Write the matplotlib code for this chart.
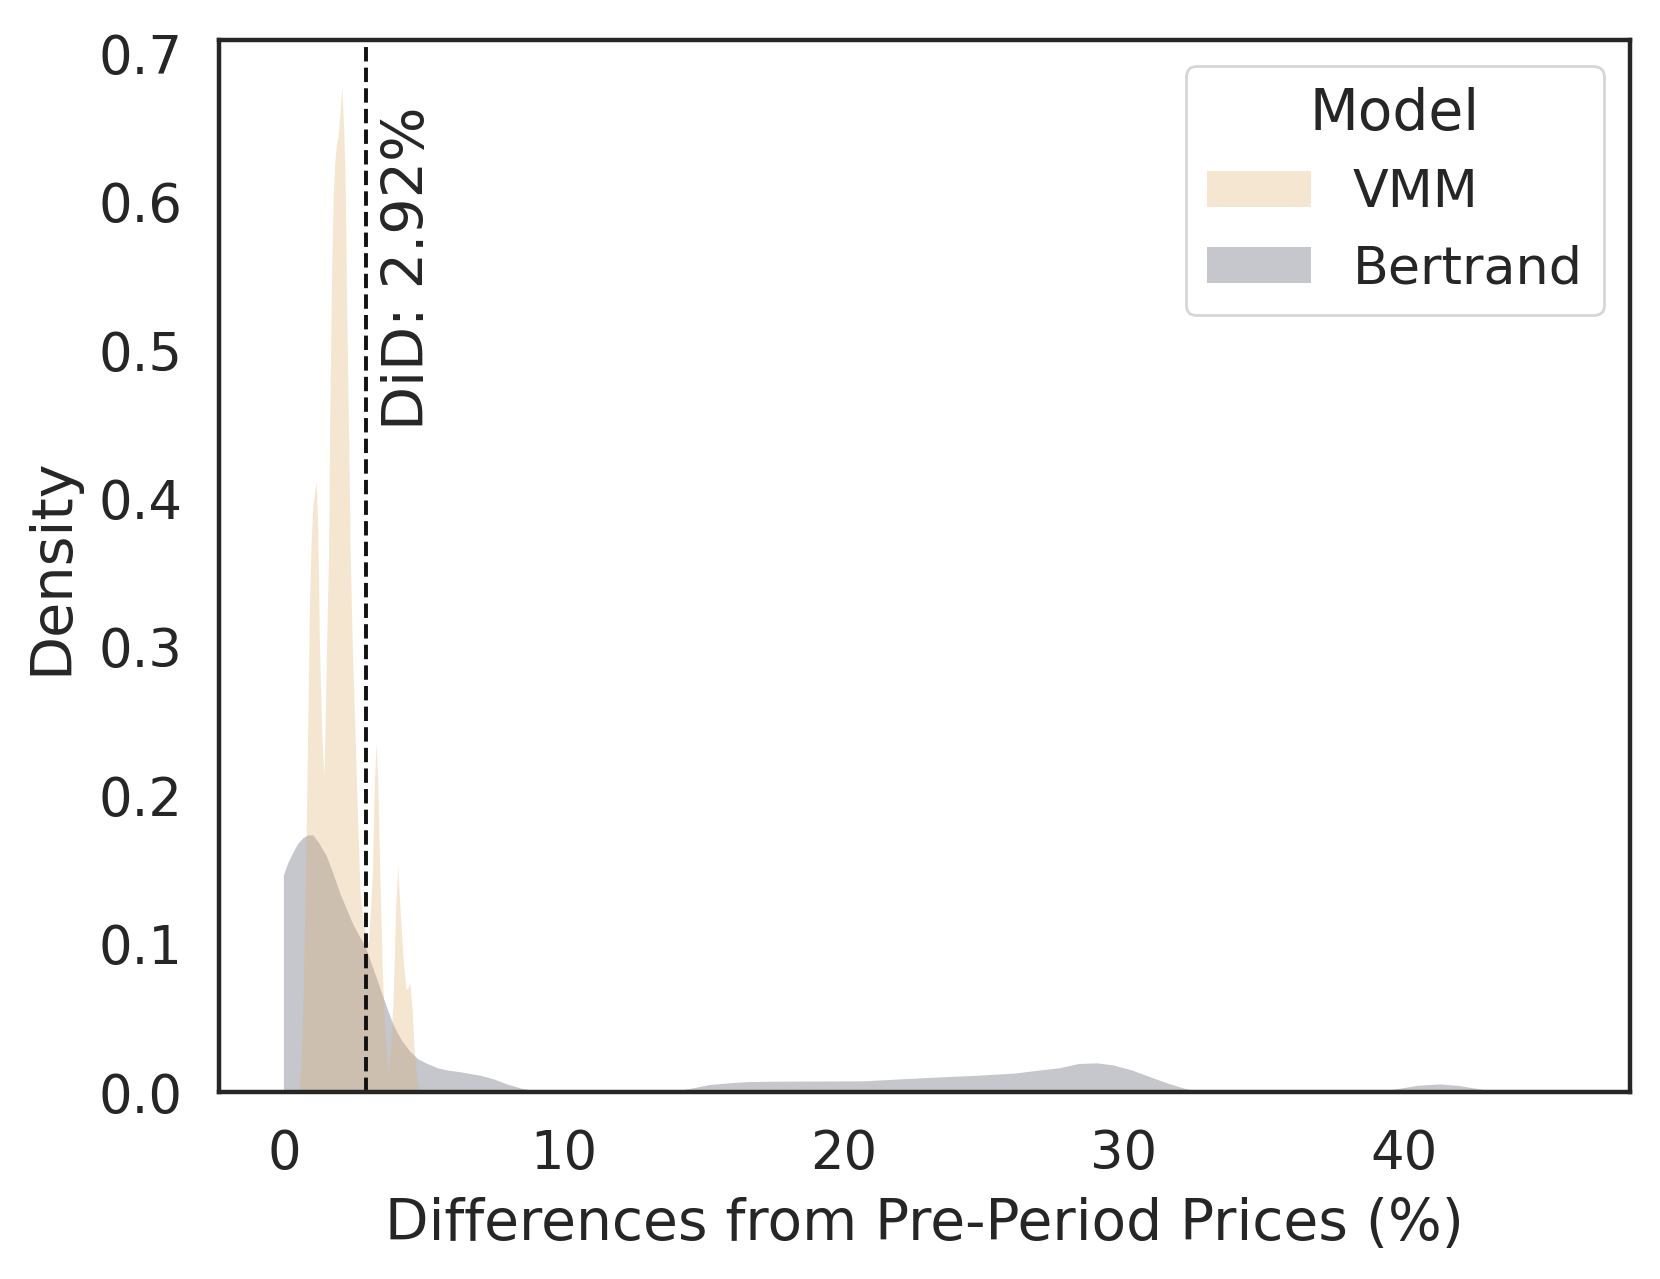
import matplotlib
matplotlib.use("Agg")
import matplotlib.pyplot as plt

# ---- data (density curves) ----
vmm_x = [0.55, 0.62, 0.69, 0.75, 0.81, 0.88, 0.93, 0.99, 1.05, 1.12, 1.17, 1.22,
         1.29, 1.37, 1.45, 1.52, 1.59, 1.61, 1.65, 1.71, 1.77, 1.83, 1.89, 1.96,
         2.02, 2.09, 2.15, 2.19, 2.21, 2.27, 2.33, 2.39, 2.46, 2.55, 2.64, 2.73,
         2.85, 2.95, 3.03, 3.10, 3.18, 3.25, 3.31, 3.37, 3.44, 3.54, 3.63, 3.74,
         3.83, 3.92, 4.00, 4.08, 4.16, 4.28, 4.38, 4.45, 4.52, 4.60, 4.67, 4.77, 4.86]
vmm_y = [0.000, 0.015, 0.052, 0.110, 0.174, 0.260, 0.330, 0.370, 0.395, 0.405, 0.411, 0.385,
         0.300, 0.240, 0.213, 0.280, 0.345, 0.359, 0.449, 0.539, 0.600, 0.625, 0.638, 0.645,
         0.660, 0.677, 0.650, 0.625, 0.607, 0.517, 0.440, 0.359, 0.300, 0.246, 0.190, 0.137,
         0.113, 0.105, 0.100, 0.120, 0.149, 0.210, 0.235, 0.210, 0.149, 0.076, 0.040, 0.013,
         0.030, 0.064, 0.120, 0.153, 0.125, 0.088, 0.069, 0.070, 0.073, 0.055, 0.028, 0.008, 0.000]

bert_x = [0.0, 0.0, 0.15, 0.33, 0.50, 0.69, 0.87, 1.05, 1.25, 1.53, 1.77, 2.01, 2.25,
          2.49, 2.70, 2.92, 3.12, 3.33, 3.53, 3.74, 3.92, 4.20, 4.52, 4.80, 5.12, 5.50,
          5.84, 6.32, 6.70, 7.00, 7.50, 8.00, 8.50, 9.05, 9.60,
          13.8, 14.5, 15.2, 16.0, 16.6, 17.9, 19.5, 20.7, 22.0, 23.4, 24.8, 26.1, 27.0,
          27.7, 28.4, 29.06, 29.6, 30.3, 31.07, 31.6, 32.2, 32.8,
          39.1, 39.8, 40.5, 41.3, 42.0, 42.8, 43.7, 45.7]
bert_y = [0.0, 0.146, 0.154, 0.161, 0.167, 0.171, 0.173, 0.173, 0.168, 0.159, 0.147, 0.134, 0.123,
          0.1125, 0.105, 0.098, 0.087, 0.076, 0.065, 0.054, 0.045, 0.035, 0.027, 0.022, 0.019, 0.016,
          0.0145, 0.0133, 0.012, 0.0111, 0.0085, 0.005, 0.0022, 0.0005, 0.0,
          0.0, 0.002, 0.0047, 0.006, 0.0067, 0.0070, 0.0071, 0.0072, 0.0085, 0.0098, 0.011, 0.0124, 0.0145,
          0.016, 0.0189, 0.0193, 0.018, 0.0145, 0.0091, 0.0055, 0.002, 0.0,
          0.0, 0.002, 0.0042, 0.0051, 0.004, 0.0015, 0.0, 0.0]

models = ["VMM", "Bertrand"]
did_value = 2.92
x_ticks = [0, 10, 20, 30, 40]
y_ticks = [0.0, 0.1, 0.2, 0.3, 0.4, 0.5, 0.6, 0.7]

TXT = "#262626"
plt.rcParams.update({
    "font.family": ["DejaVu Sans"],
    "text.color": TXT,
    "axes.labelcolor": TXT,
    "xtick.color": TXT,
    "ytick.color": TXT,
    "axes.edgecolor": TXT,
})

fig = plt.figure(figsize=(8.3, 6.395), dpi=200)
ax = fig.add_axes([0.1319, 0.1462, 0.9819 - 0.1319, 0.9687 - 0.1462])

bert_fill = ax.fill_between(bert_x, bert_y, 0, facecolor=(68/255, 72/255, 88/255),
                            alpha=0.3, linewidth=0, label=models[1])
vmm_fill = ax.fill_between(vmm_x, vmm_y, 0, facecolor=(222/255, 175/255, 108/255),
                           alpha=0.3, linewidth=0, label=models[0])

ax.axvline(did_value, color="#111111", linestyle="--", linewidth=1.4)
ax.text(did_value + 0.55, 0.446, f"DiD: {did_value:.2f}%", rotation=90,
        ha="left", va="bottom", fontsize=20.6, color=TXT)

ax.set_xlim(-2.32, 48.07)
ax.set_ylim(0, 0.709)
ax.set_xticks(x_ticks)
ax.set_yticks(y_ticks)
ax.set_yticklabels([f"{v:.1f}" for v in y_ticks])
ax.tick_params(axis="both", length=0, labelsize=19)
ax.tick_params(axis="x", pad=13)
ax.tick_params(axis="y", pad=13)
for s in ax.spines.values():
    s.set_linewidth(1.6)
    s.set_color(TXT)

ax.set_xlabel("Differences from Pre-Period Prices (%)", fontsize=20.4, labelpad=6)
ax.set_ylabel("Density", fontsize=20.6, labelpad=7)

leg = ax.legend(handles=[vmm_fill, bert_fill], labels=models, title="Model",
                loc="upper right", fontsize=18.8, title_fontsize=20.4, frameon=True,
                fancybox=True, edgecolor="0.8", framealpha=0.8)

fig.savefig("out.png", dpi=200)
